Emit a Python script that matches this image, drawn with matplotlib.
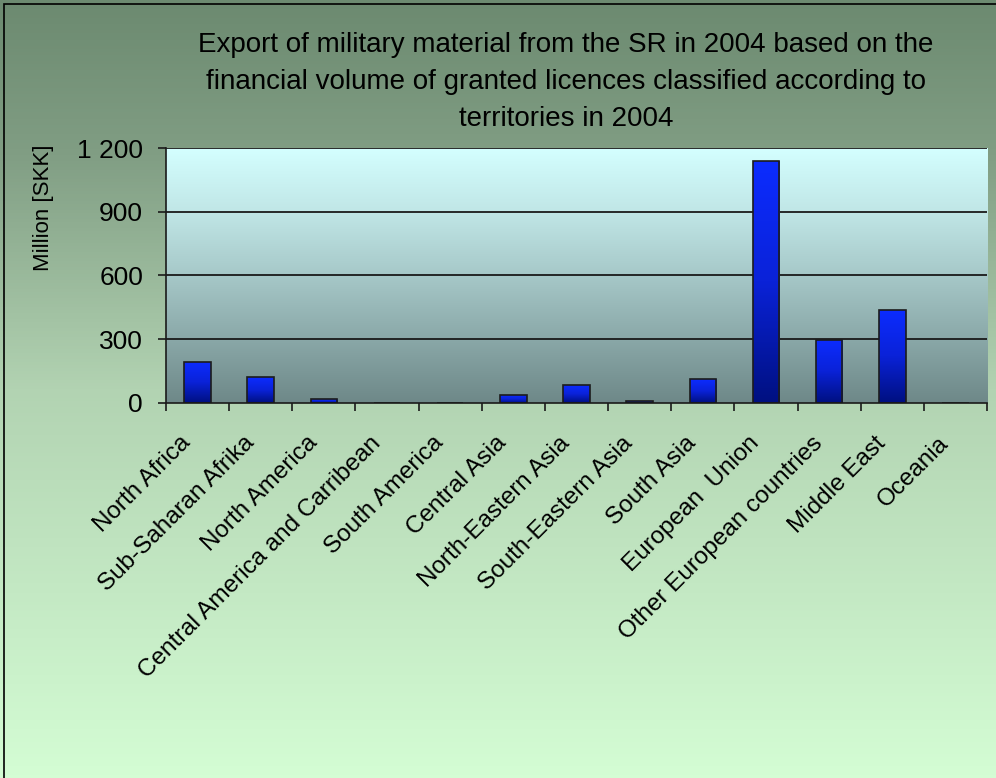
import numpy as np
import matplotlib
matplotlib.use("Agg")
import matplotlib.pyplot as plt
from matplotlib.colors import LinearSegmentedColormap
from matplotlib.patches import Rectangle
from matplotlib.transforms import ScaledTranslation

plt.rcParams['font.family'] = ['Liberation Sans', 'DejaVu Sans']

categories = ["North Africa", "Sub-Saharan Afrika", "North America",
              "Central America and Carribean", "South America", "Central Asia",
              "North-Eastern Asia", "South-Eastern Asia", "South Asia",
              "European  Union", "Other European countries", "Middle East", "Oceania"]
values = [195, 120, 17, 0, 0, 36, 83, 8, 111, 1140, 297, 438, 0]
yticks = [0, 300, 600, 900, 1200]
ytick_labels = ["0", "300", "600", "900", "1 200"]
title = ("Export of military material from the SR in 2004 based on the\n"
         "financial volume of granted licences classified according to\n"
         "territories in 2004")
ylabel = "Million [SKK]"

W, H = 996, 778
fig = plt.figure(figsize=(W / 100, H / 100), dpi=100)

# figure background gradient
bg = fig.add_axes([0, 0, 1, 1], zorder=-5)
bg_cmap = LinearSegmentedColormap.from_list(
    "bg", [(0.0, "#6c8a70"), (0.2, "#819e84"), (0.5, "#b2d3b2"), (1.0, "#d4fdd4")])
bg.imshow(np.linspace(0, 1, 256).reshape(-1, 1), cmap=bg_cmap, aspect="auto",
          extent=[0, 1, 0, 1], origin="upper")
bg.set_axis_off()

left, right = 166 / W, 987 / W
bottom, top = 1 - 403 / H, 1 - 148 / H
ax = fig.add_axes([left, bottom, right - left, top - bottom])
ax.patch.set_visible(False)

x = np.arange(len(categories))

# plot area gradient
pa_cmap = LinearSegmentedColormap.from_list(
    "pa", [(0.0, "#d4ffff"), (0.25, "#c0e6e6"), (0.5, "#a6c8c8"), (0.75, "#8aa8a8"), (1.0, "#6e8888")])
ax.imshow(np.linspace(0, 1, 256).reshape(-1, 1), cmap=pa_cmap, aspect="auto",
          extent=[-0.5, len(categories) - 0.5, 0, 1200], origin="upper", zorder=0)

for yv in yticks[1:]:
    ax.axhline(yv, color="#1a1a1a", lw=1.3, zorder=1)

bar_cmap = LinearSegmentedColormap.from_list("bar", ["#0c2cff", "#0a22d8", "#001080"])
bars = ax.bar(x, values, width=0.42, facecolor="none", edgecolor="#1c1c1c", lw=1.2, zorder=4)
grad = np.linspace(0, 1, 128).reshape(-1, 1)
for b in bars:
    h = b.get_height()
    if h <= 0:
        continue
    x0 = b.get_x()
    im = ax.imshow(grad, cmap=bar_cmap, aspect="auto",
                   extent=[x0, x0 + b.get_width(), 0, h], origin="upper", zorder=3)
    im.set_clip_path(b)

ax.set_xlim(-0.5, len(categories) - 0.5)
ax.set_ylim(0, 1200)

for s in ["top", "right"]:
    ax.spines[s].set_visible(False)
for s in ["left", "bottom"]:
    ax.spines[s].set_color("#1a1a1a")
    ax.spines[s].set_linewidth(1.2)
    ax.spines[s].set_zorder(5)

ax.set_yticks(yticks)
ax.set_yticklabels(ytick_labels, fontsize=19)
ax.tick_params(axis="y", length=5.5, width=1.2, color="#1a1a1a", pad=11)

ax.set_xticks(np.arange(len(categories) + 1) - 0.5, minor=True)
ax.set_xticks(x)
ax.set_xticklabels(categories, rotation=45, ha="right", va="center",
                   rotation_mode="anchor", fontsize=17.5)
ax.tick_params(axis="x", which="major", length=0, pad=26.5)
ax.tick_params(axis="x", which="minor", length=6, width=1.2, color="#1a1a1a", direction="out")
shift = ScaledTranslation(-10 / 100, 0, fig.dpi_scale_trans)
for lab in ax.get_xticklabels():
    lab.set_transform(lab.get_transform() + shift)

fig.text(566 / W, 1 - 82 / H, title, ha="center", va="center", fontsize=20,
         linespacing=1.55)
fig.text(43 / W, 1 - 208 / H, ylabel, ha="center", va="center", rotation=90, fontsize=16)

fig.add_artist(Rectangle((3.5 / W, -0.1), 2, 1.1 - 4.5 / H, transform=fig.transFigure,
                         fill=False, edgecolor="black", lw=1.2))

fig.savefig("out.png", dpi=100)
